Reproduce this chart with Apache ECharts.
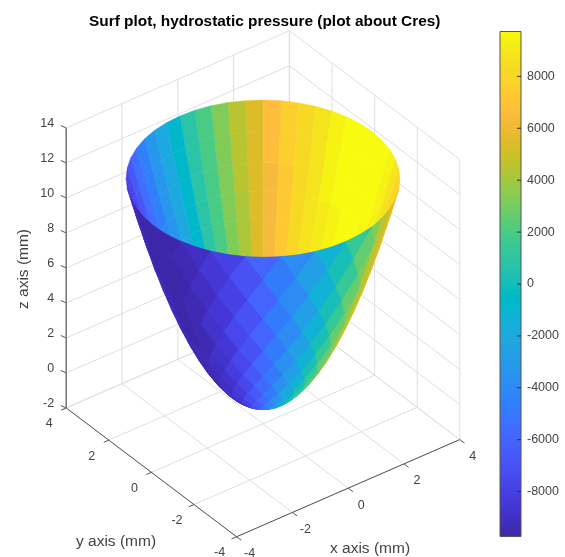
<!DOCTYPE html>
<html><head><meta charset="utf-8">
<style>html,body{margin:0;padding:0;background:#fff}#c{width:565px;height:557px}</style>
<script src="https://cdn.jsdelivr.net/npm/echarts@6/dist/echarts.min.js"></script>
</head><body><div id="c"></div>
<script>
// ---- values ----
const titleText = 'Surf plot, hydrostatic pressure (plot about Cres)';
const xTicks = [-4, -2, 0, 2, 4];
const yTicks = [-4, -2, 0, 2, 4];
const zTicks = [-2, 0, 2, 4, 6, 8, 10, 12, 14];
const barTicks = [-8000, -6000, -4000, -2000, 0, 2000, 4000, 6000, 8000];
const barRange = [-9730, 9730];
// surface rings (centre to rim)
const ringRadius = [0, 0.244, 0.4875, 0.731, 0.975, 1.219, 1.4625, 1.706, 1.95, 2.194, 2.4375, 2.681, 2.925, 3.169, 3.4125, 3.656, 3.9];
const ringHeight = [-0.8, -0.75, -0.6, -0.35, 0, 0.45, 1.0, 1.65, 2.4, 3.25, 4.2, 5.25, 6.4, 7.65, 9.0, 10.46, 12.0];
const ringPressureScale = [0.88, 0.89, 0.9, 0.91, 0.92, 0.93, 0.94, 0.95, 0.96, 0.97, 0.97, 0.98, 0.98, 0.99, 1, 1, 1];
// meridians (deg) and the pressure each one has at the rim
const meridianDeg = [0,7.5,15,22.5,30,37.5,45,52.5,60,67.5,75,82.5,90,97.5,105,112.5,120,127.5,135,142.5,150,157.5,165,172.5,180,187.5,195,202.5,210,217.5,225,232.5,240,247.5,255,262.5,270,277.5,285,292.5,300,307.5,315,322.5,330,337.5,345,352.5];
const rimPressure = [9730,9647,9398,8989,8426,7719,6880,5923,4865,3724,2518,1270,0,-1270,-2518,-3724,-4865,-5923,-6880,-7719,-8426,-8989,-9398,-9647,-9730,-9647,-9398,-8989,-8426,-7719,-6880,-5923,-4865,-3724,-2518,-1270,0,1270,2518,3724,4865,5923,6880,7719,8426,8989,9398,9647];
const parula = [[.2422,.1504,.6603],[.2504,.1650,.7076],[.2578,.1818,.7511],[.2647,.1978,.7952],[.2706,.2147,.8364],[.2751,.2342,.8710],[.2783,.2559,.8991],[.2803,.2782,.9221],[.2813,.3006,.9414],[.2810,.3228,.9579],[.2795,.3447,.9717],[.2760,.3667,.9829],[.2699,.3892,.9906],[.2602,.4123,.9952],[.2440,.4358,.9988],[.2206,.4603,.9973],[.1963,.4847,.9892],[.1834,.5074,.9798],[.1786,.5289,.9682],[.1764,.5499,.9520],[.1687,.5703,.9359],[.1540,.5902,.9218],[.1460,.6091,.9079],[.1380,.6276,.8973],[.1248,.6459,.8883],[.1113,.6635,.8763],[.0952,.6798,.8598],[.0689,.6948,.8394],[.0297,.7082,.8163],[.0036,.7203,.7917],[.0067,.7312,.7660],[.0433,.7411,.7394],[.0964,.7500,.7120],[.1408,.7584,.6842],[.1717,.7670,.6554],[.1938,.7758,.6251],[.2161,.7843,.5923],[.2470,.7918,.5567],[.2906,.7973,.5188],[.3406,.8008,.4789],[.3909,.8029,.4354],[.4456,.8024,.3909],[.5044,.7993,.3480],[.5616,.7942,.3045],[.6174,.7876,.2612],[.6720,.7793,.2227],[.7242,.7698,.1910],[.7738,.7598,.1646],[.8203,.7498,.1535],[.8634,.7406,.1596],[.9035,.7330,.1774],[.9393,.7288,.2100],[.9728,.7298,.2394],[.9956,.7434,.2371],[.9970,.7659,.2199],[.9952,.7861,.1990],[.9892,.8122,.1769],[.9788,.8351,.1549],[.9697,.8529,.1431],[.9626,.8705,.1309],[.9589,.8949,.1132],[.9598,.9218,.0948],[.9661,.9514,.0755],[.9763,.9831,.0538]];
// where the picture shows diamond facets rather than plain stripes
const diamondBelowRing = 5;
const diamondDegRange = [195, 285];
const frontDegRange = [142.5, 322.5];

// ---- view ----
const view = {ox: 263, oy: 423.75, xu: [27.9, -12.15], yu: [-21.3, -16.1], zu: -17.5, zBase: -2};
const depthOf = (x, y, z) => -17.4 * x - 22.8 * y + 12.35 * z;
const project = (x, y, z) => [
  view.ox + x * view.xu[0] + y * view.yu[0],
  view.oy + x * view.xu[1] + y * view.yu[1] + (z - view.zBase) * view.zu
];
const hex = c => '#' + c.map(v => Math.round(v * 255).toString(16).padStart(2, '0')).join('');
const colorOf = p => {
  const t = (p - barRange[0]) / (barRange[1] - barRange[0]);
  return hex(parula[Math.max(0, Math.min(parula.length - 1, Math.floor(t * parula.length)))]);
};

// ---- surface facets, far to near ----
const M = meridianDeg.length, last = ringRadius.length - 1;
const vertex = (i, k) => {
  const a = meridianDeg[(k + M) % M] * Math.PI / 180;
  return {x: ringRadius[i] * Math.cos(a), y: ringRadius[i] * Math.sin(a), z: ringHeight[i]};
};
const makeFacet = (vs, p) => {
  const d = vs.reduce((s, v) => s + depthOf(v.x, v.y, v.z), 0) / vs.length;
  const row = [];
  vs.forEach(v => row.push(...project(v.x, v.y, v.z)));
  return {row, d, color: colorOf(p)};
};
const stripes = [], diamonds = [];
// plain stripes: one quad per ring and meridian step
for (let i = 0; i < last; i++) {
  for (let k = 0; k < M; k++) {
    const p = (rimPressure[k] + rimPressure[(k + 1) % M]) / 2 * (ringPressureScale[i] + ringPressureScale[i + 1]) / 2;
    stripes.push(makeFacet([vertex(i, k), vertex(i, k + 1), vertex(i + 1, k + 1), vertex(i + 1, k)], p));
  }
}
// diamond facets on the outer front, painted after the stripes
for (let i = 1; i <= last; i++) {
  for (let k = 0; k < M; k++) {
    if ((i + k) % 2 !== 1) continue;
    const deg = meridianDeg[k];
    const inMain = deg >= diamondDegRange[0] && deg <= diamondDegRange[1];
    const inBottom = i < diamondBelowRing && deg >= frontDegRange[0] && deg <= frontDegRange[1];
    if (!inMain && !inBottom) continue;
    const p = rimPressure[k] * ringPressureScale[i];
    if (i === last) diamonds.push(makeFacet([vertex(i - 1, k), vertex(i, k - 1), vertex(i, k), vertex(i, k + 1)], p));
    else diamonds.push(makeFacet([vertex(i - 1, k), vertex(i, k - 1), vertex(i + 1, k), vertex(i, k + 1)], p));
  }
}
stripes.sort((a, b) => a.d - b.d);
diamonds.sort((a, b) => a.d - b.d);
const facets = stripes.concat(diamonds);

// ---- box, axes ----
const xMin = xTicks[0], xMax = xTicks[xTicks.length - 1];
const yMin = yTicks[0], yMax = yTicks[yTicks.length - 1];
const zMin = zTicks[0], zMax = zTicks[zTicks.length - 1];
const seg = (a, b) => [...project(...a), ...project(...b)];
const gridSegs = [];
xTicks.forEach(x => { gridSegs.push(seg([x, yMin, zMin], [x, yMax, zMin]), seg([x, yMax, zMin], [x, yMax, zMax])); });
yTicks.forEach(y => { gridSegs.push(seg([xMin, y, zMin], [xMax, y, zMin]), seg([xMax, y, zMin], [xMax, y, zMax])); });
zTicks.forEach(z => { gridSegs.push(seg([xMin, yMax, z], [xMax, yMax, z]), seg([xMax, yMax, z], [xMax, yMin, z])); });
const axisSegs = [seg([xMin, yMin, zMin], [xMax, yMin, zMin]), seg([xMin, yMin, zMin], [xMin, yMax, zMin])];
xTicks.forEach(x => axisSegs.push(seg([x, yMin, zMin], [x, yMin - 0.22, zMin])));
yTicks.forEach(y => axisSegs.push(seg([xMin, y, zMin], [xMin - 0.18, y, zMin])));
zTicks.forEach(z => axisSegs.push(seg([xMin, yMax, z], [xMin - 0.05, yMax + 0.19, z])));
const zLineSegs = [seg([xMin, yMax, zMin], [xMin, yMax, zMax])];

const labels = [];
const tickFont = '12.5px "Liberation Sans"';
const nameFont = '15.5px "Liberation Sans"';
xTicks.forEach(x => { const p = project(x, yMin, zMin); labels.push({x: p[0] + 13, y: p[1] + 17, t: String(x), a: 'center', f: tickFont}); });
yTicks.forEach(y => { const p = project(xMin, y, zMin); labels.push({x: p[0] - 17, y: p[1] + 16, t: String(y), a: 'center', f: tickFont}); });
zTicks.forEach(z => { const p = project(xMin, yMax, z); labels.push({x: p[0] - 12, y: p[1] - 4, t: String(z), a: 'right', f: tickFont}); });
labels.push({x: 116, y: 542, t: 'y axis (mm)', a: 'center', f: nameFont});
labels.push({x: 370, y: 549, t: 'x axis (mm)', a: 'center', f: nameFont});
labels.push({x: 24, y: 269, t: 'z axis (mm)', a: 'center', f: nameFont, r: Math.PI / 2});

const lineSeries = (segs, stroke, lineWidth) => ({
  type: 'custom', xAxisIndex: 0, yAxisIndex: 0, silent: true, clip: false, animation: false, data: segs,
  renderItem: (params, api) => {
    const a = api.coord([api.value(0), api.value(1)]), b = api.coord([api.value(2), api.value(3)]);
    return {type: 'line', shape: {x1: a[0], y1: a[1], x2: b[0], y2: b[1]}, style: {stroke, lineWidth}};
  }
});

const option = {
  animation: false,
  backgroundColor: '#fff',
  title: {text: titleText, left: 84, top: 9, textStyle: {fontFamily: 'Liberation Sans', fontSize: 15.4, fontWeight: 'bold', color: '#000'}},
  grid: [
    {left: 0, top: 0, width: 565, height: 557, show: false},
    {left: 500, top: 31.5, width: 21, height: 505, show: false}
  ],
  xAxis: [
    {type: 'value', gridIndex: 0, min: 0, max: 565, show: false},
    {type: 'value', gridIndex: 1, min: 0, max: 1, show: false}
  ],
  yAxis: [
    {type: 'value', gridIndex: 0, min: 0, max: 557, inverse: true, show: false},
    {type: 'value', gridIndex: 1, min: barRange[0], max: barRange[1], position: 'right',
     axisLine: {show: false}, splitLine: {show: false}, axisTick: {show: false},
     axisLabel: {show: true, margin: 6, customValues: barTicks, formatter: v => String(v), fontFamily: 'Liberation Sans', fontSize: 12.5, color: '#444'}}
  ],
  series: [
    lineSeries(gridSegs, '#dfdfdf', 1),
    lineSeries(axisSegs, '#555', 1),
    lineSeries(zLineSegs, '#777', 1.5),
    {
      type: 'custom', xAxisIndex: 0, yAxisIndex: 0, silent: true, clip: false, animation: false,
      data: facets.map(f => f.row),
      renderItem: (params, api) => {
        const pts = [];
        for (let j = 0; j < 8; j += 2) pts.push(api.coord([api.value(j), api.value(j + 1)]));
        const c = facets[params.dataIndex].color;
        return {type: 'polygon', shape: {points: pts}, style: {fill: c, stroke: c, lineWidth: 0.5}};
      }
    },
    {
      type: 'custom', xAxisIndex: 0, yAxisIndex: 0, silent: true, clip: false, animation: false,
      data: labels.map(l => [l.x, l.y]),
      renderItem: (params, api) => {
        const l = labels[params.dataIndex];
        const p = api.coord([api.value(0), api.value(1)]);
        return {type: 'text', x: p[0], y: p[1], rotation: l.r || 0,
          style: {text: l.t, x: 0, y: 0, align: l.a, verticalAlign: 'middle', font: l.f, fill: '#444'}};
      }
    },
    {
      type: 'custom', xAxisIndex: 1, yAxisIndex: 1, silent: true, clip: false, animation: false, z: 3,
      data: [[0, barRange[0], 1, barRange[1]]],
      renderItem: (params, api) => {
        const a = api.coord([api.value(0), api.value(1)]), b = api.coord([api.value(2), api.value(3)]);
        const stops = parula.map((c, i) => ({offset: i / (parula.length - 1), color: hex(c)}));
        return {type: 'rect', shape: {x: a[0], y: b[1], width: b[0] - a[0], height: a[1] - b[1]},
          style: {fill: new echarts.graphic.LinearGradient(0, 1, 0, 0, stops), stroke: '#555', lineWidth: 1}};
      }
    },
    {
      type: 'custom', xAxisIndex: 1, yAxisIndex: 1, silent: true, clip: false, animation: false, z: 4,
      data: barTicks.map(v => [v]),
      renderItem: (params, api) => {
        const b = api.coord([1, api.value(0)]);
        return {type: 'line', shape: {x1: b[0] - 4, y1: b[1], x2: b[0], y2: b[1]}, style: {stroke: '#333', lineWidth: 1}};
      }
    }
  ]
};
echarts.init(document.getElementById('c'), null, {renderer: 'canvas'}).setOption(option);
</script></body></html>
